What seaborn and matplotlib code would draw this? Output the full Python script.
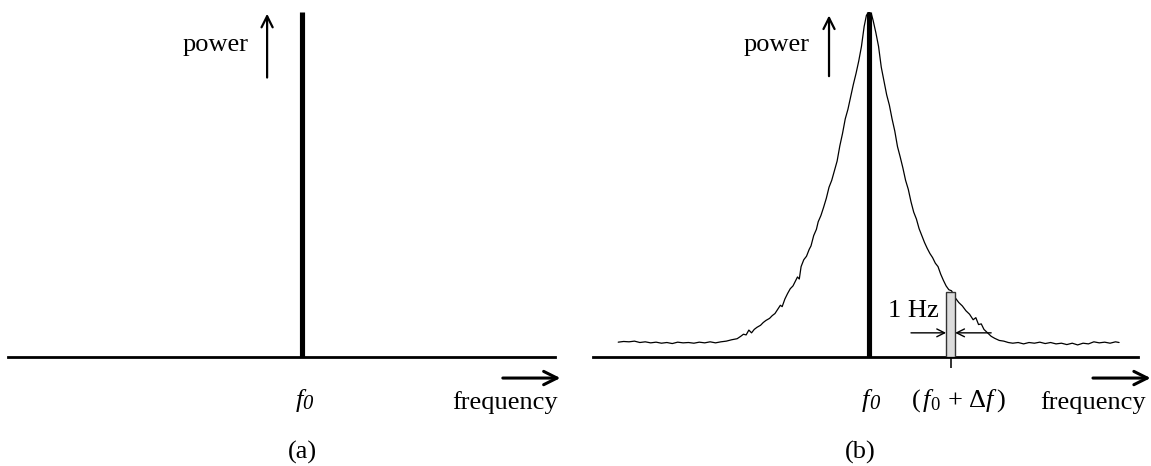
import numpy as np
import pandas as pd
import seaborn as sns
import matplotlib.pyplot as plt

# =============================================================================
# Data (frequency offset from f0 in Hz, relative power)
# =============================================================================
F0 = 0.0
DELTA_F = 9.1          # offset of the 1 Hz measurement bin
BIN_WIDTH = 1.0        # Hz
CARRIER_POWER = 1.0

NOISE_FREQ = [
    -27.8, -27.2, -26.6, -26.0, -25.4, -24.8, -24.2, -23.6, -23.0, -22.4,
    -21.8, -21.2, -20.6, -20.0, -19.4, -18.8, -18.2, -17.6, -17.0, -16.4,
    -15.8, -15.2, -14.6, -14.2, -13.9, -13.6, -13.3, -13.0, -12.7, -12.4,
    -12.0, -11.7, -11.4, -11.0, -10.7, -10.4, -10.1, -9.8, -9.6, -9.3,
    -9.0, -8.7, -8.4, -8.1, -7.9, -7.7, -7.5, -7.2, -6.9, -6.6,
    -6.4, -6.1, -5.8, -5.6, -5.3, -5.0, -4.7, -4.4, -4.1, -3.8,
    -3.5, -3.2, -2.9, -2.6, -2.3, -2.0, -1.7, -1.4, -1.1, -0.8,
    -0.5, -0.25, 0.0,
    0.3, 0.5, 0.8, 1.1, 1.4, 1.7, 2.0, 2.3, 2.6, 2.9,
    3.2, 3.5, 3.8, 4.1, 4.4, 4.7, 5.0, 5.3, 5.6, 5.9,
    6.2, 6.5, 6.8, 7.1, 7.4, 7.7, 8.0, 8.3, 8.6, 8.9,
    9.2, 9.6, 10.0, 10.4, 10.8, 11.2, 11.6, 11.9, 12.2, 12.5,
    12.8, 13.2, 13.6, 14.0, 14.5, 15.0, 15.5, 16.0, 16.6, 17.2,
    17.8, 18.4, 19.0, 19.6, 20.2, 20.8, 21.4, 22.0, 22.6, 23.2,
    23.8, 24.4, 25.0, 25.6, 26.2, 26.8, 27.4, 27.8,
]
NOISE_POWER = [
    0.043, 0.045, 0.044, 0.046, 0.042, 0.044, 0.041, 0.043, 0.040, 0.042,
    0.039, 0.043, 0.041, 0.042, 0.040, 0.043, 0.041, 0.044, 0.041, 0.044,
    0.046, 0.050, 0.053, 0.060, 0.066, 0.064, 0.078, 0.070, 0.080, 0.086,
    0.092, 0.100, 0.106, 0.112, 0.120, 0.126, 0.138, 0.150, 0.146, 0.168,
    0.184, 0.198, 0.206, 0.222, 0.232, 0.226, 0.262, 0.282, 0.292, 0.312,
    0.322, 0.352, 0.370, 0.392, 0.410, 0.434, 0.460, 0.492, 0.512, 0.540,
    0.568, 0.612, 0.648, 0.690, 0.718, 0.754, 0.790, 0.822, 0.858, 0.900,
    0.958, 0.990, 1.000,
    0.995, 0.975, 0.940, 0.900, 0.840, 0.800, 0.760, 0.730, 0.690, 0.655,
    0.610, 0.580, 0.548, 0.512, 0.486, 0.450, 0.420, 0.400, 0.372, 0.352,
    0.332, 0.315, 0.300, 0.288, 0.272, 0.262, 0.240, 0.222, 0.206, 0.195,
    0.192, 0.172, 0.158, 0.148, 0.134, 0.124, 0.108, 0.114, 0.094, 0.096,
    0.080, 0.070, 0.060, 0.054, 0.048, 0.046, 0.042, 0.040, 0.042, 0.038,
    0.042, 0.040, 0.043, 0.039, 0.042, 0.038, 0.040, 0.036, 0.040, 0.035,
    0.040, 0.038, 0.044, 0.041, 0.043, 0.040, 0.044, 0.042,
]
BIN_POWER = 0.188      # height of the grey bin at f0 + delta_f

PANEL_LABELS = ["(a)", "(b)"]
FONT_SIZE = 19
# =============================================================================

THIN_ARROW = dict(arrowstyle="->", lw=1.6, mutation_scale=20, color="black",
                  shrinkA=0, shrinkB=0)
THICK_ARROW = dict(arrowstyle="->", lw=2.2, mutation_scale=24, color="black",
                   shrinkA=0, shrinkB=0)
BIN_ARROW = dict(arrowstyle="->", lw=1.0, mutation_scale=14, color="black",
                 shrinkA=0, shrinkB=0)


def f0_label(ax, x, y):
    """Italic f with a small italic 0, as in the reference."""
    ax.annotate("f", xy=(x, y), xytext=(-1, 0), textcoords="offset points",
                ha="right", va="baseline", fontsize=FONT_SIZE, style="italic",
                annotation_clip=False)
    ax.annotate("0", xy=(x, y), xytext=(-1, -1.5), textcoords="offset points",
                ha="left", va="baseline", fontsize=FONT_SIZE * 0.78,
                style="italic", annotation_clip=False)


def draw_common(ax, panel_label, label_x):
    """Baseline, carrier line, f0 label and panel label."""
    ax.set_ylim(0, 1.0)
    for side in ["top", "left", "right"]:
        ax.spines[side].set_visible(False)
    ax.spines["bottom"].set_linewidth(2.0)
    ax.spines["bottom"].set_color("black")
    ax.set_yticks([])

    ax.vlines(F0, 0, CARRIER_POWER, color="black", lw=3.7, zorder=5)

    f0_label(ax, F0 + 0.2, -0.145)
    ax.text(label_x, -0.278, panel_label, ha="center", va="center",
            fontsize=FONT_SIZE, clip_on=False)


def draw_panel_a(ax):
    ax.set_xlim(-32.7, 28.1)
    ax.set_xticks([])
    draw_common(ax, PANEL_LABELS[0], 0.0)

    ax.text(-9.6, 0.905, "power", ha="center", va="center", fontsize=FONT_SIZE)
    ax.annotate("", xy=(-3.9, 0.995), xytext=(-3.9, 0.81),
                arrowprops=THIN_ARROW)
    ax.annotate("", xy=(28.7, -0.061), xytext=(22.3, -0.061),
                annotation_clip=False, arrowprops=THICK_ARROW)
    ax.text(22.6, -0.132, "frequency", ha="center", va="center",
            fontsize=FONT_SIZE, clip_on=False)


def draw_panel_b(ax):
    ax.set_xlim(-30.6, 29.9)
    df = pd.DataFrame({"freq": NOISE_FREQ, "power": NOISE_POWER})
    sns.lineplot(data=df, x="freq", y="power", ax=ax, color="black",
                 lw=0.9, sort=False, estimator=None)
    ax.set_xlabel("")
    ax.set_ylabel("")

    # the 1 Hz measurement bin
    ax.bar([DELTA_F], [BIN_POWER], width=BIN_WIDTH, color="#dcdcdc",
           edgecolor="#333333", linewidth=1.0, zorder=4)
    ax.set_xticks([DELTA_F])
    ax.set_xticklabels([""])
    ax.tick_params(axis="x", bottom=True, length=8, width=1.3,
                   direction="out", color="#222222")

    draw_common(ax, PANEL_LABELS[1], -0.9)

    ax.text(-10.2, 0.905, "power", ha="center", va="center", fontsize=FONT_SIZE)
    ax.annotate("", xy=(-4.4, 0.99), xytext=(-4.4, 0.814),
                arrowprops=THIN_ARROW)
    ax.annotate("", xy=(31.3, -0.061), xytext=(24.9, -0.061),
                annotation_clip=False, arrowprops=THICK_ARROW)
    ax.text(24.9, -0.132, "frequency", ha="center", va="center",
            fontsize=FONT_SIZE, clip_on=False)

    ax.text(DELTA_F + 0.9, -0.125, r"$(\,f_{\mathrm{0}}\, + \,\Delta f\,)$",
            ha="center", va="center", fontsize=FONT_SIZE, clip_on=False)

    # "1 Hz" with arrows pointing at the bin edges
    ax.text(DELTA_F - 1.3, 0.133, "1 Hz", ha="right", va="center",
            fontsize=FONT_SIZE)
    ax.annotate("", xy=(DELTA_F - BIN_WIDTH / 2, 0.07),
                xytext=(DELTA_F - 4.4, 0.07), arrowprops=BIN_ARROW)
    ax.annotate("", xy=(DELTA_F + BIN_WIDTH / 2, 0.07),
                xytext=(DELTA_F + 4.5, 0.07), arrowprops=BIN_ARROW)


if __name__ == "__main__":
    sns.set_style("white")
    plt.rcParams["font.family"] = ["Liberation Serif", "DejaVu Serif"]
    plt.rcParams["text.color"] = "black"
    plt.rcParams["mathtext.fontset"] = "custom"
    plt.rcParams["mathtext.rm"] = "Liberation Serif"
    plt.rcParams["mathtext.it"] = "Liberation Serif:italic"
    plt.rcParams["mathtext.default"] = "it"

    fig = plt.figure(figsize=(11.51, 4.66), dpi=100)
    ax_a = fig.add_axes([8 / 1151, 109 / 466, 547 / 1151, 345 / 466])
    ax_b = fig.add_axes([593 / 1151, 109 / 466, 545 / 1151, 345 / 466])
    for ax in (ax_a, ax_b):
        ax.patch.set_alpha(0)

    draw_panel_a(ax_a)
    draw_panel_b(ax_b)

    fig.savefig("out.png", dpi=100)
    plt.close(fig)
